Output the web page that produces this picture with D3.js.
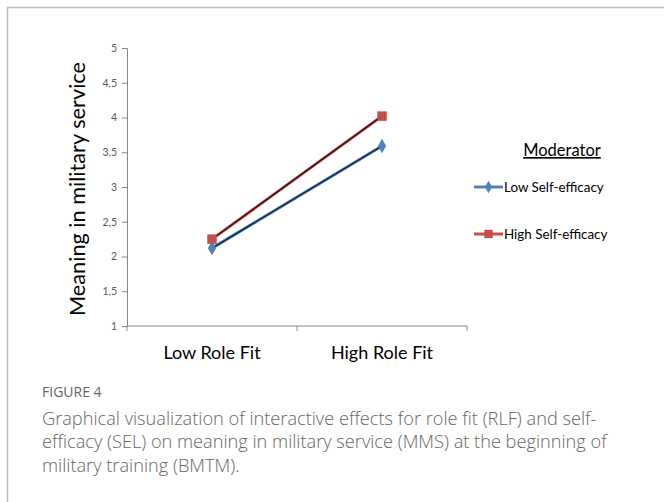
<!DOCTYPE html>
<html>
<head>
<meta charset="utf-8">
<script src="https://cdn.jsdelivr.net/npm/d3@7"></script>
<style>
  body { margin: 0; background: #fff; }
  svg { display: block; }
</style>
</head>
<body>
<svg id="chart"></svg>
<script>
// Chart values
const categories = ["Low Role Fit", "High Role Fit"];
const lowSelfEfficacy = [2.12, 3.59];
const highSelfEfficacy = [2.25, 4.02];
const seriesNames = ["Low Self-efficacy", "High Self-efficacy"];
const yTicks = [1, 1.5, 2, 2.5, 3, 3.5, 4, 4.5, 5];
const captionTitle = "FIGURE 4";
const captionLines = [
  "Graphical visualization of interactive effects for role fit (RLF) and self-",
  "efficacy (SEL) on meaning in military service (MMS) at the beginning of",
  "military training (BMTM)."
];

const W = 664, H = 502;
const margin = { left: 127, top: 48, right: 197, bottom: 176 };

const svg = d3.select("#chart").attr("width", W).attr("height", H);

// outer frame (only top and left edges are visible in the crop)
svg.append("path")
  .attr("d", `M7.5,${H} L7.5,7.5 L${W},7.5`)
  .attr("fill", "none")
  .attr("stroke", "#bdbdbd")
  .attr("stroke-width", 1.5);

const width = W - margin.left - margin.right;
const height = H - margin.top - margin.bottom;

const chart = svg.append("g")
  .attr("transform", `translate(${margin.left},${margin.top})`);

const xScale = d3.scaleBand().domain(categories).range([0, width]);
const yScale = d3.scaleLinear().domain([1, 5]).range([height, 0]);

const fmt = d => String(d).replace(".", ",");

// y axis
const yAxisG = chart.append("g")
  .call(d3.axisLeft(yScale).tickValues(yTicks).tickFormat(fmt).tickSize(5).tickPadding(5));
yAxisG.select(".domain").attr("stroke", "#868686");
yAxisG.selectAll(".tick line").attr("stroke", "#868686");
yAxisG.selectAll(".tick text")
  .attr("fill", "#595959")
  .style("font-family", "Lato, 'Open Sans', sans-serif")
  .style("font-size", "10.5px");

// x axis with ticks between categories
const xAxisG = chart.append("g")
  .attr("transform", `translate(0,${height})`);
xAxisG.append("line")
  .attr("x1", 0).attr("x2", width)
  .attr("stroke", "#868686");
xAxisG.selectAll(".sep")
  .data([0, ...categories.map(c => xScale(c) + xScale.bandwidth())])
  .join("line")
  .attr("class", "sep")
  .attr("x1", d => d).attr("x2", d => d)
  .attr("y1", 0).attr("y2", 5)
  .attr("stroke", "#868686");
xAxisG.selectAll(".cat")
  .data(categories)
  .join("text")
  .attr("class", "cat")
  .attr("x", d => xScale(d) + xScale.bandwidth() / 2)
  .attr("y", 33)
  .attr("text-anchor", "middle")
  .attr("fill", "#000")
  .style("font-family", "Lato, 'Open Sans', sans-serif")
  .style("font-size", "18px")
  .text(d => d);

// y axis title
chart.append("text")
  .attr("transform", `translate(-42,${height / 2 + 2}) rotate(-90)`)
  .attr("text-anchor", "middle")
  .attr("fill", "#000")
  .style("font-family", "Lato, 'Open Sans', sans-serif")
  .style("font-size", "21.7px")
  .text("Meaning in military service");

const cx = d => xScale(d) + xScale.bandwidth() / 2;
const series = [
  { name: seriesNames[0], values: lowSelfEfficacy, color: "#4F81BD", inner: "#0b1a33", shape: d3.symbolDiamond },
  { name: seriesNames[1], values: highSelfEfficacy, color: "#C0504D", inner: "#2a0806", shape: d3.symbolSquare }
];

const line = d3.line()
  .x((d, i) => cx(categories[i]))
  .y(d => yScale(d));

series.forEach(s => {
  chart.append("path")
    .datum(s.values)
    .attr("d", line)
    .attr("fill", "none")
    .attr("stroke", s.color)
    .attr("stroke-width", 3);
  chart.append("path")
    .datum(s.values)
    .attr("d", line)
    .attr("fill", "none")
    .attr("stroke", s.inner)
    .attr("stroke-width", 1.2);
  chart.selectAll(null)
    .data(s.values)
    .join("path")
    .attr("transform", (d, i) => `translate(${cx(categories[i])},${yScale(d)})`)
    .attr("d", d3.symbol().type(s.shape).size(s.shape === d3.symbolSquare ? 90 : 60))
    .attr("fill", s.color);
});

// legend
const legend = svg.append("g");
legend.append("text")
  .attr("x", 562).attr("y", 156)
  .attr("text-anchor", "middle")
  .attr("fill", "#000")
  .style("font-family", "Lato, 'Open Sans', sans-serif")
  .style("font-size", "16.5px")
  .style("text-decoration", "underline")
  .text("Moderator");

const items = legend.selectAll(".item")
  .data(series)
  .join("g")
  .attr("class", "item")
  .attr("transform", (d, i) => `translate(474,${187 + i * 47})`);
items.append("line")
  .attr("x1", 0).attr("x2", 29)
  .attr("stroke", d => d.color)
  .attr("stroke-width", 3);
items.append("path")
  .attr("transform", "translate(14.5,0)")
  .attr("d", d => d3.symbol().type(d.shape).size(d.shape === d3.symbolSquare ? 70 : 45)())
  .attr("fill", d => d.color);
items.append("text")
  .attr("x", 30).attr("y", 4.5)
  .attr("fill", "#000")
  .style("font-family", "Lato, 'Open Sans', sans-serif")
  .style("font-size", "13.4px")
  .text(d => d.name);

// caption
svg.append("text")
  .attr("x", 42).attr("y", 397)
  .attr("fill", "#666")
  .style("font-family", "'Open Sans', sans-serif")
  .style("font-size", "14px")
  .text(captionTitle);

svg.selectAll(".cap")
  .data(captionLines)
  .join("text")
  .attr("class", "cap")
  .attr("x", 42)
  .attr("y", (d, i) => 424.5 + i * 23.6)
  .attr("fill", "#666")
  .style("font-family", "'Open Sans', sans-serif")
  .style("font-size", "18.2px")
  .style("font-weight", 300)
  .text(d => d);
</script>
</body>
</html>
